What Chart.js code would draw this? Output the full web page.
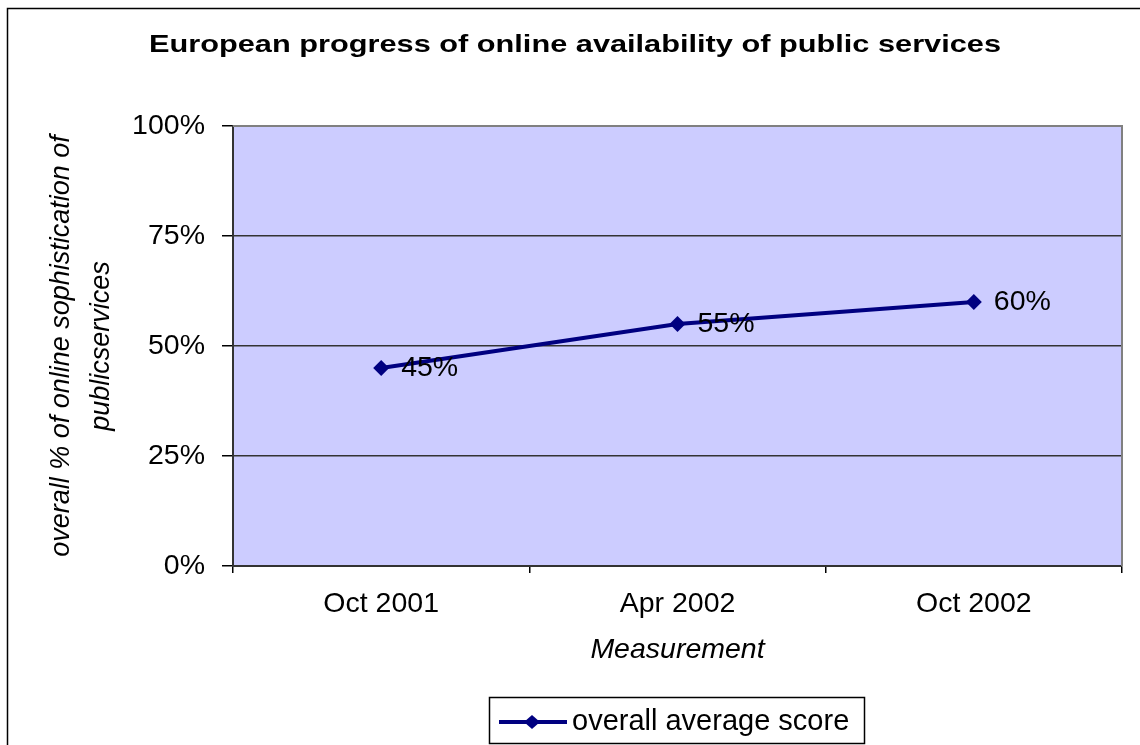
<!DOCTYPE html>
<html>
<head>
<meta charset="utf-8">
<script src="https://cdn.jsdelivr.net/npm/chart.js@4.4.0/dist/chart.umd.min.js"></script>
<style>
html,body{margin:0;padding:0;background:#fff;}
#wrap{width:1140px;height:745px;position:relative;}
</style>
</head>
<body>
<div id="wrap"><canvas id="c" width="1140" height="745"></canvas></div>
<script>
const chartTitle = 'European progress of online availability of public services';
const categories = ['Oct 2001', 'Apr 2002', 'Oct 2002'];
const seriesName = 'overall average score';
const seriesValues = [0.45, 0.55, 0.60];
const yTicks = [0, 0.25, 0.5, 0.75, 1];
const yTitle = ['overall % of online sophistication of', 'publicservices'];
const xTitle = 'Measurement';

const FONT = "'Liberation Sans', Arial, sans-serif";
const LINE = '#000080';

const decor = {
  id: 'decor',
  beforeDraw(chart) {
    const {ctx, chartArea: a} = chart;
    ctx.save();
    ctx.fillStyle = '#fff';
    ctx.fillRect(0, 0, chart.width, chart.height);
    ctx.strokeStyle = '#000';
    ctx.lineWidth = 1.5;
    ctx.strokeRect(7.5, 8.5, 1300, 900);
    ctx.fillStyle = '#CCCCFF';
    ctx.fillRect(a.left, a.top, a.right - a.left, a.bottom - a.top);
    // title (horizontally stretched like the original)
    ctx.fillStyle = '#000';
    ctx.font = 'bold 24px ' + FONT;
    ctx.textAlign = 'center';
    ctx.textBaseline = 'middle';
    const w = ctx.measureText(chartTitle).width;
    const sx = 852 / w;
    ctx.translate(575, 45);
    ctx.scale(sx, 1);
    ctx.fillText(chartTitle, 0, 0);
    ctx.restore();
  },
  afterDraw(chart) {
    const {ctx, chartArea: a} = chart;
    ctx.save();
    ctx.strokeStyle = '#808080';
    ctx.lineWidth = 2;
    ctx.beginPath();
    ctx.moveTo(a.left, a.top);
    ctx.lineTo(a.right, a.top);
    ctx.lineTo(a.right, a.bottom);
    ctx.stroke();
    // data labels
    const meta = chart.getDatasetMeta(0);
    ctx.fillStyle = '#000';
    ctx.font = '28.5px ' + FONT;
    ctx.textAlign = 'left';
    ctx.textBaseline = 'middle';
    meta.data.forEach((p, i) => {
      const v = chart.data.datasets[0].data[i];
      ctx.fillText(Math.round(v * 100) + '%', p.x + 20, p.y);
    });
    // legend
    const ds = chart.data.datasets[0];
    ctx.strokeStyle = '#000';
    ctx.lineWidth = 1.5;
    ctx.strokeRect(489.5, 697.5, 375, 46);
    const ly = 722;
    ctx.strokeStyle = ds.borderColor;
    ctx.lineWidth = 4;
    ctx.beginPath();
    ctx.moveTo(499, ly);
    ctx.lineTo(567, ly);
    ctx.stroke();
    ctx.fillStyle = ds.borderColor;
    ctx.beginPath();
    ctx.moveTo(532 - 8, ly);
    ctx.lineTo(532, ly - 7);
    ctx.lineTo(532 + 8, ly);
    ctx.lineTo(532, ly + 7);
    ctx.closePath();
    ctx.fill();
    ctx.fillStyle = '#000';
    ctx.font = '29px ' + FONT;
    ctx.fillText(ds.label, 572, ly);
    ctx.restore();
  }
};

new Chart(document.getElementById('c'), {
  type: 'line',
  data: {
    labels: categories,
    datasets: [{
      label: seriesName,
      data: seriesValues,
      borderColor: LINE,
      backgroundColor: LINE,
      borderWidth: 4,
      pointStyle: 'rectRot',
      pointRadius: 8,
      pointHoverRadius: 8,
      pointBackgroundColor: LINE,
      pointBorderColor: LINE,
      pointBorderWidth: 0,
      tension: 0,
      fill: false
    }]
  },
  options: {
    responsive: false,
    animation: false,
    devicePixelRatio: 1,
    events: [],
    layout: { padding: { top: 126, left: 0, right: 18, bottom: 55 } },
    plugins: {
      legend: { display: false },
      title: { display: false },
      tooltip: { enabled: false }
    },
    scales: {
      x: {
        type: 'category',
        offset: true,
        afterFit: (s) => { s.height = 124; },
        grid: {
          offset: true,
          drawOnChartArea: false,
          drawTicks: true,
          tickLength: 7,
          tickColor: '#000',
          lineWidth: 1.5
        },
        border: { display: true, color: '#333', width: 2 },
        ticks: {
          color: '#000',
          font: { family: FONT, size: 28.5 },
          padding: 14,
          maxRotation: 0
        },
        title: {
          display: true,
          text: xTitle,
          color: '#000',
          font: { family: FONT, size: 28.5, style: 'italic' },
          padding: { top: 0, bottom: 23 }
        }
      },
      y: {
        min: 0,
        max: 1,
        afterFit: (s) => { s.width = 233; },
        afterBuildTicks: (s) => { s.ticks = yTicks.map(v => ({ value: v })); },
        grid: {
          color: (c) => (c.tick && c.tick.value === 1 ? '#808080' : '#333'),
          lineWidth: 1.5,
          tickLength: 11,
          tickColor: '#000'
        },
        border: { display: true, color: '#333', width: 2 },
        ticks: {
          color: '#000',
          font: { family: FONT, size: 28.5 },
          padding: 17,
          callback: (v) => Math.round(v * 100) + '%'
        },
        title: {
          display: true,
          text: yTitle,
          color: '#000',
          font: { family: FONT, size: 27, style: 'italic', lineHeight: 1.48 },
          padding: { top: 42, bottom: 0 }
        }
      }
    }
  },
  plugins: [decor]
});
</script>
</body>
</html>
